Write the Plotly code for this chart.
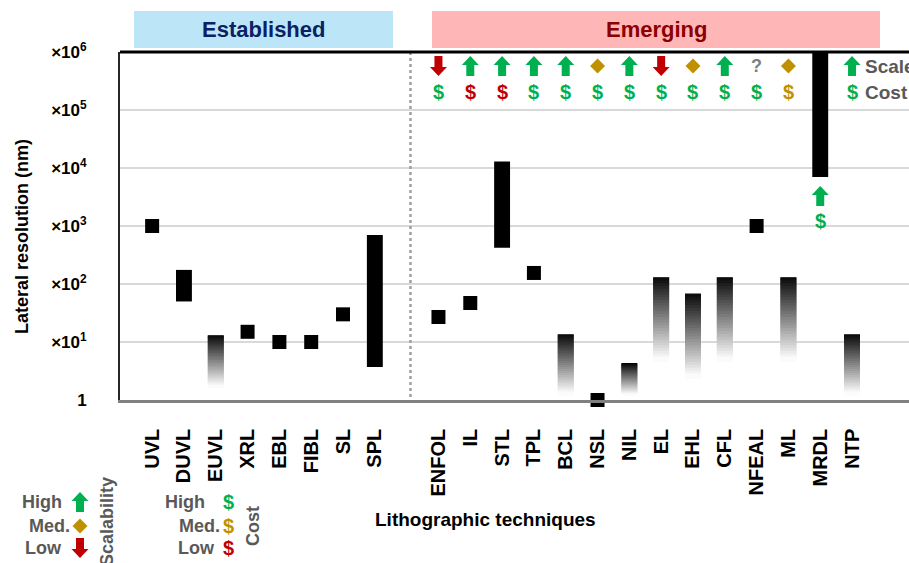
import math
import plotly.graph_objects as go

# ---- techniques (x axis) ----
established = ["UVL", "DUVL", "EUVL", "XRL", "EBL", "FIBL", "SL", "SPL"]
emerging = ["ENFOL", "IL", "STL", "TPL", "BCL", "NSL", "NIL", "EL", "EHL",
            "CFL", "NFEAL", "ML", "MRDL", "NTP"]

# single reported lateral resolution (nm)
point_names = ["UVL", "XRL", "EBL", "FIBL", "SL", "ENFOL", "IL", "TPL", "NSL", "NFEAL"]
point_values = [1000, 15, 10, 10, 30, 27, 47, 155, 1, 1000]

# resolution ranges (nm)
range_names = ["DUVL", "SPL", "STL", "MRDL"]
range_low = [50, 3.7, 420, 7000]
range_high = [175, 700, 13000, 1e6]

# open-ended ranges, shaded from the upper value down to the lower one
graded_names = ["EUVL", "BCL", "NIL", "EL", "EHL", "CFL", "ML", "NTP"]
graded_high = [13, 13.5, 4.2, 130, 68, 130, 130, 13.5]
graded_low = [1.6, 1.2, 1.2, 4.5, 2.3, 4.5, 4.5, 1.2]

# scalability / cost ratings of the emerging techniques
rated_names = ["ENFOL", "IL", "STL", "TPL", "BCL", "NSL", "NIL", "EL", "EHL",
               "CFL", "NFEAL", "ML", "MRDL"]
scalability = ["low", "high", "high", "high", "high", "med", "high", "low", "med",
               "high", "unknown", "med", "high"]
cost = ["high", "low", "low", "high", "high", "high", "high", "high", "high",
        "high", "high", "med", "high"]

y_ticks = [1, 10, 100, 1000, 10000, 100000, 1000000]
y_ticktext = ["1"] + ["\u00d710<sup>%d</sup>" % k for k in range(1, 7)]

# ---- styling ----
FONT = "Liberation Sans, Arial, sans-serif"
GREEN, GOLD, RED, GREY_Q = "#00B050", "#BF9000", "#C00000", "#7F7F7F"
LABEL_GREY = "#595959"
BAR_W = 0.5
Y_DECADES = 6
Y_MAX = 10 ** Y_DECADES

# block-arrow and diamond outlines, in pixels around the anchor point (y up)
ARROW_UP = "M0,10 L8.5,1 L4,1 L4,-10 L-4,-10 L-4,1 L-8.5,1 Z"
ARROW_DOWN = "M0,-10 L8.5,-1 L4,-1 L4,10 L-4,10 L-4,-1 L-8.5,-1 Z"
DIAMOND = "M0,7.5 L7.5,0 L0,-7.5 L-7.5,0 Z"

pos = {n: i for i, n in enumerate(established)}
pos.update({n: i + len(established) + 1 for i, n in enumerate(emerging)})
sep_x = len(established) + 0.12

W, H = 909, 563
ML_, MR_, MT_, MB_ = 120, 0, 52, 163
PW, PH = W - ML_ - MR_, H - MT_ - MB_


def px(xp):
    return (xp - ML_) / PW


def py(yp):
    return (H - MB_ - yp) / PH


fig = go.Figure()

# solid ranges
fig.add_trace(go.Bar(
    x=[pos[n] for n in range_names],
    base=range_low,
    y=[h - l for l, h in zip(range_low, range_high)],
    width=BAR_W, marker=dict(color="black", line=dict(width=0)),
    hoverinfo="skip", showlegend=False,
))

# shaded ranges: overlapping slices from black (upper value) to white (lower value)
N_SLICES = 30
gx, gbase, gh, gcol = [], [], [], []
for n, hi, lo in zip(graded_names, graded_high, graded_low):
    lhi, llo = math.log10(hi), math.log10(lo)
    step = (lhi - llo) / N_SLICES
    for k in range(N_SLICES):
        # each slice reaches one step higher so later slices cover any seam
        top = 10 ** (lhi - max(k - 1, 0) * step)
        bot = 10 ** (lhi - (k + 1) * step)
        f = (k + 0.5) / N_SLICES
        g = int(round(255 * f))
        gx.append(pos[n])
        gbase.append(bot)
        gh.append(top - bot)
        gcol.append("rgb(%d,%d,%d)" % (g, g, g))
fig.add_trace(go.Bar(
    x=gx, base=gbase, y=gh, width=BAR_W,
    marker=dict(color=gcol, line=dict(width=0)),
    hoverinfo="skip", showlegend=False,
))

# single values
fig.add_trace(go.Scatter(
    x=[pos[n] for n in point_names], y=point_values, mode="markers",
    marker=dict(symbol="square", size=14, color="black", line=dict(width=0)),
    hoverinfo="skip", showlegend=False, cliponaxis=False,
))

ann = []
shapes = []


def note(x, y, text, font, xref="paper", yref="paper", **kw):
    d = dict(x=x, y=y, xref=xref, yref=yref, text=text, showarrow=False, font=font,
             xanchor="center", yanchor="middle")
    d.update(kw)
    ann.append(d)


def glyph(path, color, x, y, xref="paper", dy=0):
    """Filled outline placed at (x, y); path given in pixels, dy shifts it in pixels."""
    if dy:
        pts = path.replace("M", "M ").replace("L", " L ").replace("Z", " Z").split()
        out = []
        for p in pts:
            if "," in p:
                a, b = p.split(",")
                out.append("%s,%g" % (a, float(b) + dy))
            else:
                out.append(p)
        path = " ".join(out)
    shapes.append(dict(type="path", path=path, xref=xref, yref="paper",
                       xsizemode="pixel", ysizemode="pixel", xanchor=x, yanchor=y,
                       fillcolor=color, line=dict(width=0), layer="above"))


def scale_icon(rating, x, y, xref="paper", dy=0):
    if rating == "high":
        glyph(ARROW_UP, GREEN, x, y, xref, dy)
    elif rating == "low":
        glyph(ARROW_DOWN, RED, x, y, xref, dy)
    elif rating == "med":
        glyph(DIAMOND, GOLD, x, y, xref, dy)
    else:
        note(x, y, "?", dict(family=FONT, size=18, color=GREY_Q, weight="bold"),
             xref=xref, yshift=dy)


COST_COL = {"high": GREEN, "med": GOLD, "low": RED}


def cost_font(c):
    return dict(family=FONT, size=20, color=COST_COL[c], weight="bold")


# rating icons in the top rows; a range that reaches the top gets them below its lower end
for n, s, c in zip(rated_names, scalability, cost):
    if n in range_names and range_high[range_names.index(n)] >= Y_MAX:
        y_end = math.log10(range_low[range_names.index(n)]) / Y_DECADES
        scale_icon(s, pos[n], y_end, xref="x", dy=-19)
        note(pos[n], y_end, "$", cost_font(c), xref="x", yshift=-44)
    else:
        scale_icon(s, pos[n], py(66), xref="x")
        note(pos[n], py(92), "$", cost_font(c), xref="x")

# key in the last column
x_key = pos["NTP"]
key_font = dict(family=FONT, size=19, color=LABEL_GREY, weight="bold")
scale_icon("high", x_key, py(66), xref="x")
note(x_key, py(92), "$", cost_font("high"), xref="x")
note(x_key, py(66), "Scale", key_font, xref="x", xshift=11, xanchor="left")
note(x_key, py(92), "Cost", key_font, xref="x", xshift=11, xanchor="left")

# group headers
shapes += [
    dict(type="rect", xref="paper", yref="paper", x0=px(134), x1=px(393), y0=py(48), y1=py(11),
         fillcolor="#BDE5F8", line=dict(width=0), layer="below"),
    dict(type="rect", xref="paper", yref="paper", x0=px(432), x1=px(880), y0=py(48), y1=py(11),
         fillcolor="#FFB6B6", line=dict(width=0), layer="below"),
    # separator between the two groups
    dict(type="line", xref="x", yref="paper", x0=sep_x, x1=sep_x, y0=py(397), y1=1,
         line=dict(color="#A0A0A0", width=2.5, dash="dot")),
    # top frame line
    dict(type="line", xref="paper", yref="paper", x0=0, x1=1, y0=1, y1=1,
         line=dict(color="black", width=3)),
]
note(px(263.5), py(30), "Established", dict(family=FONT, size=22, color="#0B2161", weight="bold"))
note(px(656), py(30), "Emerging", dict(family=FONT, size=22, color="#8B0000", weight="bold"))

# axis titles
note(px(22), py(237), "Lateral resolution (nm)",
     dict(family=FONT, size=18, color="black", weight="bold"), textangle=-90)
note(px(485), py(519), "Lithographic techniques",
     dict(family=FONT, size=19, color="black", weight="bold"))

# bottom key: scalability
lab = dict(family=FONT, size=18, color=LABEL_GREY, weight="bold")
for text, yy, xr in (("High", 502, 64), ("Med.", 526, 72), ("Low", 548, 64)):
    note(px(xr), py(yy), text, lab, xanchor="right")
for r, yy in (("high", 502), ("med", 526), ("low", 548)):
    scale_icon(r, px(80), py(yy))
note(px(107), py(522), "Scalability", lab, textangle=-90)

# bottom key: cost
for text, yy, xr in (("High", 502, 207), ("Med.", 526, 222), ("Low", 548, 217)):
    note(px(xr), py(yy), text, lab, xanchor="right")
for r, yy in (("high", 502), ("med", 526), ("low", 548)):
    note(px(228), py(yy), "$", cost_font(r))
note(px(253), py(526), "Cost", lab, textangle=-90)

fig.update_layout(
    width=W, height=H,
    margin=dict(l=ML_, r=MR_, t=MT_, b=MB_),
    paper_bgcolor="white", plot_bgcolor="white",
    barmode="overlay", showlegend=False,
    shapes=shapes, annotations=ann,
    font=dict(family=FONT, color="black"),
)
fig.update_xaxes(
    range=[-1.01, 23.79],
    tickmode="array",
    tickvals=[pos[n] for n in established + emerging],
    ticktext=established + emerging,
    tickangle=-90, ticks="", ticklabelstandoff=18,
    tickfont=dict(family=FONT, size=20, color="black", weight="bold"),
    showgrid=False, zeroline=False,
    showline=True, linecolor="#808080", linewidth=2.5,
)
fig.update_yaxes(
    type="log", range=[0, Y_DECADES],
    tickmode="array", tickvals=y_ticks, ticktext=y_ticktext,
    ticks="", ticklabelstandoff=28,
    tickfont=dict(family=FONT, size=17, color="black", weight="bold"),
    showgrid=True, gridcolor="#D9D9D9", gridwidth=1.5,
    zeroline=False, showline=True, linecolor="#262626", linewidth=2,
)

fig.write_html("out.html")
